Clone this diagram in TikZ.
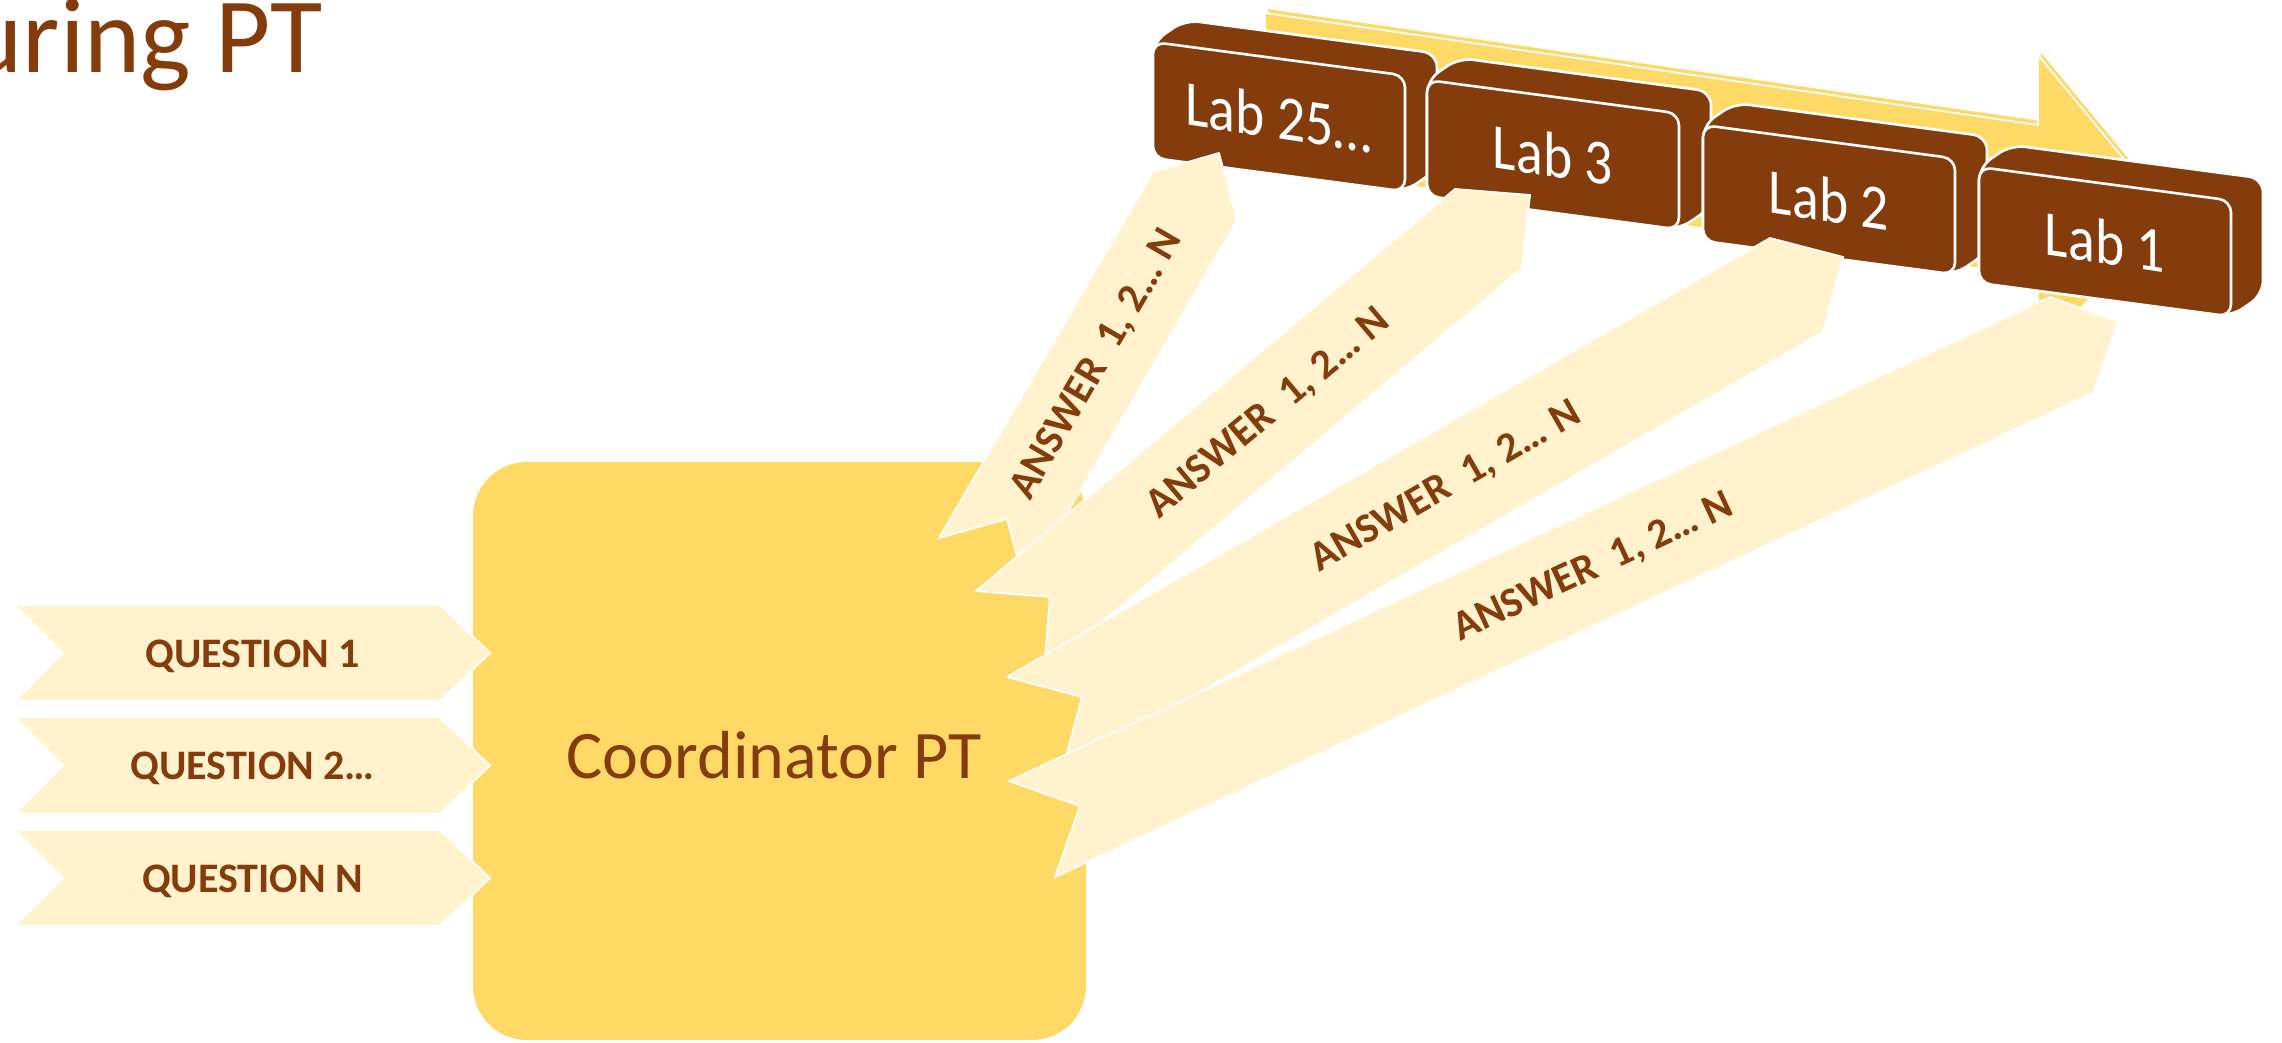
\documentclass[tikz,border=0pt]{standalone}
\usepackage{fontspec}
\setmainfont{Carlito}
\usetikzlibrary{calc}

\definecolor{labbrown}{HTML}{843C0C}
\definecolor{gold}{HTML}{FFD966}
\definecolor{cream}{HTML}{FFF2CC}

\begin{document}
\begin{tikzpicture}[x=0.5pt, y=-0.5pt,
  chevron/.style={fill=cream, draw=white, line width=0.9pt, line join=miter},
  qtext/.style={text=labbrown, font=\fontsize{21}{25}\selectfont\bfseries, inner sep=0pt},
  atext/.style={text=labbrown, font=\fontsize{21}{25}\selectfont\bfseries, inner sep=0pt},
  labside/.style={fill=labbrown, draw=white, line width=1.3pt, rounded corners=7pt},
  labface/.style={fill=labbrown, draw=white, line width=1.3pt, rounded corners=6pt},
  labtext/.style={text=white, font=\fontsize{32}{38}\selectfont, inner sep=0pt, xscale=0.87, yslant=-0.133},
  bigarrow/.style={fill=gold, draw=white, line width=0.9pt, line join=miter},
  coordbox/.style={fill=gold, rounded corners=27pt, minimum width=306.5pt, minimum height=289pt, inner sep=0pt},
  ctext/.style={text=labbrown, font=\fontsize{34}{40}\selectfont, inner sep=0pt},
  titletext/.style={text=labbrown, font=\fontsize{53.5}{60}\selectfont, inner sep=0pt}
]
\useasboundingbox (0,0) rectangle (2282,1043);
\clip (0,0) rectangle (2282,1043);

% heading, cut at the left page edge
\node[titletext, anchor=base east] (title) at (323,73) {uring PT};

% coordinator block
\node[coordbox] (coordbox) at (779.5,751) {};
\node[ctext, anchor=base] (coord) at (774,778) {Coordinator PT};

% incoming questions
\foreach \yy/\txt/\nm in {653/{QUESTION 1}/q1, 765.5/{QUESTION 2…}/q2, 878/{QUESTION N}/qn}{
  \draw[chevron] (15,\yy-48) -- (440,\yy-48) -- (490,\yy) -- (440,\yy+48)
                 -- (15,\yy+48) -- (63,\yy) -- cycle;
  \node[qtext, anchor=base] (\nm) at (252.5,\yy+14) {\txt};
}

% long 3D arrow behind the labs: back face, then front face
\begin{scope}[shift={(2,-5)}]
  \draw[bigarrow] (1265,13) -- (2038,125) -- (2038,55) -- (2175,221)
                  -- (2038,347) -- (2038,277) -- (1265,165) -- cycle;
\end{scope}
\draw[bigarrow] (1265,13) -- (2038,125) -- (2038,55) -- (2175,221)
                -- (2038,347) -- (2038,277) -- (1265,165) -- cycle;

% lab blocks: body with depth, then the front face and its label
\foreach \xl/\yt/\txt/\nm in {1153/42/{Lab 25…}/lab25, 1427/80/{Lab 3}/lab3,
                              1703/125/{Lab 2}/lab2, 1979/167/{Lab 1}/lab1}{
  \draw[labside] (\xl,\yt) -- (\xl+32,\yt-22) -- (\xl+284,\yt+11.5)
                 -- (\xl+284,\yt+127.5) -- (\xl+252,\yt+149.5) -- (\xl,\yt+116) -- cycle;
  \draw[labface] (\xl,\yt) -- (\xl+252,\yt+33.5) -- (\xl+252,\yt+149.5)
                 -- (\xl,\yt+116) -- cycle;
  \node[labtext] (\nm) at (\xl+126,\yt+74.75) {\txt};
}

% answer chevrons: tail corner, head corner, tip, head corner, tail corner, notch
\foreach \k/\tlx/\tly/\hlx/\hly/\tpx/\tpy/\hrx/\hry/\trx/\try/\nx/\ny in {
   1/939/538/1153/172/1219/153/1237/220/1025/586/1007/519,
   2/976/591/1455/189/1530/195/1522/268/1044/671/1050/597,
   3/1007/677/1770/238/1843/257/1823/332/1062/772/1082/697,
   4/1009/781/2050/297/2118/322/2093/393/1055/877/1080/806}{
  \coordinate (a\k tl) at (\tlx,\tly);
  \coordinate (a\k hl) at (\hlx,\hly);
  \coordinate (a\k tip) at (\tpx,\tpy);
  \coordinate (a\k hr) at (\hrx,\hry);
  \coordinate (a\k tr) at (\trx,\try);
  \coordinate (a\k n) at (\nx,\ny);
  \coordinate (a\k s) at ($(a\k tl)!0.5!(a\k tr)$);
  \coordinate (a\k e) at ($(a\k hl)!0.5!(a\k hr)$);
  \draw[chevron] (a\k tl) -- (a\k hl) -- (a\k tip) -- (a\k hr) -- (a\k tr) -- (a\k n) -- cycle;
  \path (a\k s) -- (a\k e) node[atext, pos=0.54, sloped] (ans\k) {ANSWER\ \ 1, 2… N};
}
\end{tikzpicture}
\end{document}
